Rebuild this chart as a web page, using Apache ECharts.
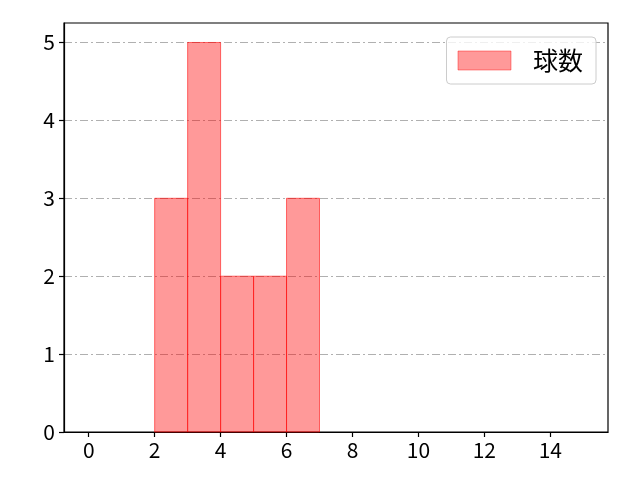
<!DOCTYPE html>
<html>
<head>
<meta charset="utf-8">
<script src="https://cdn.jsdelivr.net/npm/echarts@6/dist/echarts.min.js"></script>
<style>
html, body { margin: 0; padding: 0; background: #fff; }
#chart { width: 640px; height: 480px; }
</style>
</head>
<body>
<div id="chart"></div>
<script>
// histogram bins (left edge, right edge) and counts
var binStart = [2, 3, 4, 5, 6];
var binEnd = [3, 4, 5, 6, 7];
var counts = [3, 5, 2, 2, 3];
var xTicks = [0, 2, 4, 6, 8, 10, 12, 14];
var yTicks = [0, 1, 2, 3, 4, 5];
var seriesName = '球数';

var font = 'Noto Sans CJK JP';
var data = [];
for (var i = 0; i < counts.length; i++) {
	data.push([binStart[i], binEnd[i], counts[i]]);
}

var chart = echarts.init(document.getElementById('chart'), null, { renderer: 'canvas' });
var option = {
	animation : false,
	backgroundColor : '#fff',
	textStyle : { fontFamily : font },
	grid : {
		left : 64, right : 32, top : 23, bottom : 48,
		show : true,
		borderColor : '#000',
		borderWidth : 1.2,
		backgroundColor : 'transparent'
	},
	legend : {
		show : true,
		right : 44,
		top : 37,
		itemWidth : 53,
		itemHeight : 19,
		padding : [11, 13, 11, 11],
		borderColor : '#ccc',
		borderWidth : 1,
		borderRadius : 4,
		backgroundColor : 'rgba(255,255,255,0.8)',
		textStyle : { fontSize : 25, lineHeight : 24, color : '#000', fontFamily : font, padding : [0, 0, 0, 17] },
		data : [ { name : seriesName, icon : 'rect', itemStyle : { color : 'rgba(255,0,0,0.4)', borderColor : 'rgba(255,0,0,0.4)', borderWidth : 1 } } ]
	},
	xAxis : {
		type : 'value',
		min : -0.75,
		max : 15.75,
		splitLine : { show : false },
		axisLine : { show : true, onZero : false, lineStyle : { color : '#000', width : 1.2 } },
		axisTick : { show : true, length : 5, lineStyle : { color : '#000', width : 1.2 }, customValues : xTicks },
		axisLabel : { color : '#000', fontSize : 21, margin : 8, fontFamily : font, customValues : xTicks }
	},
	yAxis : {
		type : 'value',
		min : 0,
		max : 5.25,
		axisLine : { show : true, onZero : false, lineStyle : { color : '#000', width : 1.2 } },
		axisTick : { show : true, length : 5, lineStyle : { color : '#000', width : 1.2 }, customValues : yTicks },
		axisLabel : { color : '#000', fontSize : 21, margin : 9, fontFamily : font, customValues : yTicks },
		splitLine : {
			show : true,
			showMinLine : false,
			lineStyle : { color : '#b0b0b0', width : 1, type : [8, 3, 2, 3] }
		}
	},
	series : [ {
		name : seriesName,
		type : 'custom',
		data : data,
		encode : { x : [0, 1], y : 2 },
		renderItem : function(params, api) {
			var p0 = api.coord([api.value(0), 0]);
			var p1 = api.coord([api.value(1), api.value(2)]);
			return {
				type : 'rect',
				shape : { x : p0[0], y : p1[1], width : p1[0] - p0[0], height : p0[1] - p1[1] },
				style : { fill : 'rgba(255,0,0,0.4)', stroke : 'rgba(255,0,0,0.55)', lineWidth : 1 }
			};
		}
	} ]
};
chart.setOption(option);
</script>
</body>
</html>
